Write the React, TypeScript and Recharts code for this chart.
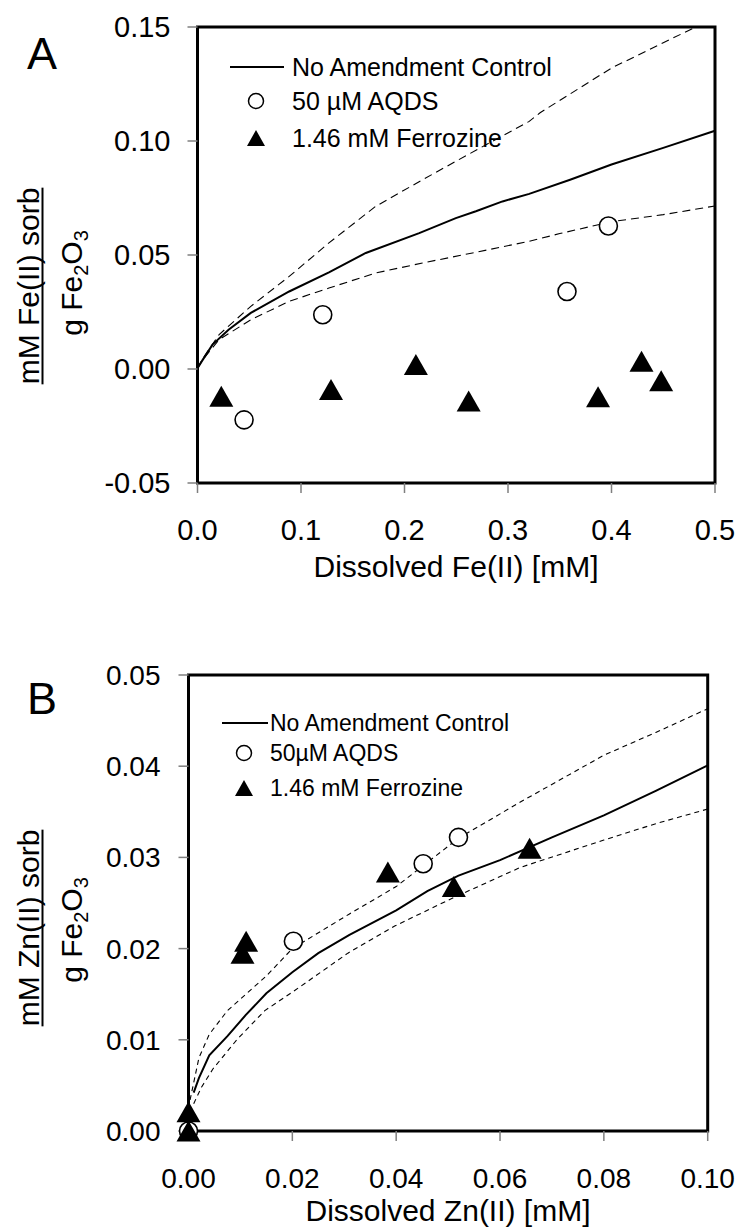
import { ComposedChart, Line, Scatter, XAxis, YAxis, ReferenceArea, Legend, Label } from 'recharts'

const FONT = '"Liberation Sans", Arial, Helvetica, sans-serif'

// ---- panel A: Fe(II) ----
const feTicksX = [0, 0.1, 0.2, 0.3, 0.4, 0.5]
const feTicksY = [-0.05, 0, 0.05, 0.1, 0.15]

const feControlX = [0, 0.005, 0.0145, 0.03, 0.0515, 0.0886, 0.127, 0.1626, 0.2142, 0.2496, 0.269, 0.2947, 0.3205, 0.36, 0.4, 0.45, 0.5]
const feControlY = [0.0003, 0.004, 0.0107, 0.0172, 0.0246, 0.034, 0.0424, 0.0509, 0.0596, 0.0662, 0.0692, 0.0735, 0.0768, 0.083, 0.0897, 0.097, 0.1045]

const feUpperX = [0, 0.005, 0.0209, 0.0515, 0.0886, 0.127, 0.172, 0.2174, 0.2496, 0.2818, 0.3205, 0.331, 0.4, 0.45, 0.481]
const feUpperY = [0.0003, 0.0045, 0.0151, 0.0275, 0.0406, 0.0553, 0.0713, 0.083, 0.0911, 0.0991, 0.1086, 0.1124, 0.132, 0.1431, 0.1499]

const feLowerX = [0, 0.005, 0.0209, 0.0515, 0.0886, 0.127, 0.172, 0.2174, 0.2657, 0.3205, 0.35, 0.4, 0.45, 0.5]
const feLowerY = [0.0003, 0.004, 0.0129, 0.0216, 0.0297, 0.0355, 0.0421, 0.0465, 0.0509, 0.056, 0.0594, 0.0646, 0.0677, 0.0715]

const feAqdsX = [0.045, 0.121, 0.357, 0.397]
const feAqdsY = [-0.0223, 0.0238, 0.034, 0.0627]

const feFerroX = [0.023, 0.129, 0.211, 0.262, 0.387, 0.429, 0.448]
const feFerroY = [-0.012, -0.009, 0.002, -0.014, -0.0122, 0.0034, -0.0052]

// ---- panel B: Zn(II) ----
const znTicksX = [0, 0.02, 0.04, 0.06, 0.08, 0.1]
const znTicksY = [0, 0.01, 0.02, 0.03, 0.04, 0.05]

const znControlX = [0.001, 0.002, 0.004, 0.0075, 0.011, 0.015, 0.02, 0.025, 0.031, 0.04, 0.046, 0.052, 0.06, 0.07, 0.08, 0.09, 0.1]
const znControlY = [0.0042, 0.0058, 0.0083, 0.0104, 0.0127, 0.0151, 0.0174, 0.0195, 0.0215, 0.0242, 0.0263, 0.028, 0.0297, 0.0322, 0.0346, 0.0373, 0.0401]

const znUpperX = [0.0003, 0.002, 0.004, 0.0075, 0.015, 0.02, 0.031, 0.04, 0.052, 0.064, 0.08, 0.09, 0.1]
const znUpperY = [0.0034, 0.008, 0.0106, 0.0132, 0.017, 0.02, 0.0238, 0.0268, 0.0321, 0.0361, 0.0412, 0.0437, 0.0463]

const znLowerX = [0.001, 0.0025, 0.0047, 0.0093, 0.0147, 0.0202, 0.0307, 0.0398, 0.0511, 0.0639, 0.08, 0.09, 0.1]
const znLowerY = [0.003, 0.0048, 0.0068, 0.01, 0.0132, 0.0153, 0.0195, 0.0225, 0.0256, 0.0289, 0.0319, 0.0337, 0.0353]

const znAqdsX = [0, 0.0202, 0.0452, 0.052]
const znAqdsY = [0, 0.0208, 0.0293, 0.0322]

const znFerroX = [0, 0, 0.0104, 0.0111, 0.0384, 0.0511, 0.0657]
const znFerroY = [0.0021, 0, 0.0195, 0.0208, 0.0284, 0.0268, 0.031]

const pts = (xs: number[], ys: number[]) => xs.map((x, i) => ({ x, y: ys[i] }))

function OpenCircle(props: any) {
  const { cx, cy } = props
  return <circle cx={cx} cy={cy} r={9} fill="#fff" stroke="#000" strokeWidth={1.6} />
}

function FilledTriangle(props: any) {
  const { cx, cy } = props
  const w = 24
  const h = 21
  return <path d={`M${cx},${cy - h / 2}L${cx + w / 2},${cy + h / 2}L${cx - w / 2},${cy + h / 2}Z`} fill="#000" />
}

interface LegendGeom {
  lineX1: number
  lineX2: number
  markX: number
  textX: number
  rows: number[]
  fontSize: number
  aqdsLabel: string
}

function legendSvg(g: LegendGeom) {
  const [r1, r2, r3] = g.rows
  const dy = g.fontSize * 0.355
  return (
    <svg width={742} height={r3 + 30} style={{ display: 'block', overflow: 'visible' }}>
      <line x1={g.lineX1} x2={g.lineX2} y1={r1} y2={r1} stroke="#000" strokeWidth={2} />
      <circle cx={g.markX} cy={r2} r={7.5} fill="#fff" stroke="#000" strokeWidth={1.5} />
      <path d={`M${g.markX},${r3 - 8}L${g.markX + 9},${r3 + 8}L${g.markX - 9},${r3 + 8}Z`} fill="#000" />
      <g fontFamily={FONT} fontSize={g.fontSize} fill="#000">
        <text x={g.textX} y={r1 + dy}>No Amendment Control</text>
        <text x={g.textX} y={r2 + dy}>{g.aqdsLabel}</text>
        <text x={g.textX} y={r3 + dy}>1.46 mM Ferrozine</text>
      </g>
    </svg>
  )
}

function yTitle(metal: string, letter: string, letterY: number, cy1: number, cy2: number) {
  const fs = 30
  const half = (6.556 * fs) / 2
  return (
    <g fontFamily={FONT} fill="#000">
      <text x={27} y={letterY} fontSize={45}>{letter}</text>
      <text transform={`translate(39,${cy1}) rotate(-90)`} textAnchor="middle" fontSize={fs}>
        {`mM ${metal}(II) sorb`}
      </text>
      <line x1={42.5} x2={42.5} y1={cy1 - half} y2={cy1 + half} stroke="#000" strokeWidth={2} />
      <text transform={`translate(82,${cy2}) rotate(-90)`} textAnchor="middle" fontSize={fs}>
        g Fe<tspan dy={6} fontSize={20}>2</tspan>
        <tspan dy={-6}>O</tspan>
        <tspan dy={6} fontSize={20}>3</tspan>
      </text>
    </g>
  )
}

function xTitle(text: string, cx: number, y: number) {
  return (
    <text x={cx} y={y} textAnchor="middle" fontFamily={FONT} fontSize={30} fill="#000">
      {text}
    </text>
  )
}

const tickLine = { stroke: '#7f7f7f', strokeWidth: 1.5 }

export default function App() {
  return (
    <div style={{ position: 'absolute', left: 0, top: 0, width: 742, height: 1229, background: '#fff' }}>
      <div style={{ position: 'absolute', left: 0, top: 0 }}>
        <ComposedChart width={742} height={600} margin={{ top: 27, right: 27, bottom: 17, left: 0 }} style={{ fontFamily: FONT }}>
          <XAxis
            type="number"
            dataKey="x"
            domain={[0, 0.5]}
            ticks={feTicksX}
            interval={0}
            tickFormatter={(v: number) => v.toFixed(1)}
            tick={{ fill: '#000', fontSize: 29, fontFamily: FONT }}
            tickSize={10}
            tickMargin={26}
            tickLine={tickLine}
            axisLine={false}
            height={100}
            label={<Label content={() => xTitle('Dissolved Fe(II) [mM]', 456, 577)} />}
          />
          <YAxis
            type="number"
            dataKey="y"
            domain={[-0.05, 0.15]}
            ticks={feTicksY}
            interval={0}
            tickFormatter={(v: number) => v.toFixed(2)}
            tick={{ fill: '#000', fontSize: 29, fontFamily: FONT }}
            tickSize={10}
            tickMargin={17}
            tickLine={tickLine}
            axisLine={false}
            width={197.5}
            label={<Label content={() => yTitle('Fe', 'A', 69, 286, 283)} />}
          />
          <ReferenceArea x1={0} x2={0.5} y1={-0.05} y2={0.15} fill="none" stroke="#000" strokeWidth={3} />
          <Legend
            layout="vertical"
            align="center"
            verticalAlign="middle"
            wrapperStyle={{ left: 0, top: 0, width: 742, height: 160 }}
            content={() =>
              legendSvg({ lineX1: 230, lineX2: 284, markX: 256, textX: 292, rows: [67, 101, 138], fontSize: 25, aqdsLabel: '50 µM AQDS' })
            }
          />
          <Line data={pts(feUpperX, feUpperY)} dataKey="y" stroke="#000" strokeWidth={1.1} strokeDasharray="8 5" dot={false} isAnimationActive={false} legendType="none" />
          <Line data={pts(feLowerX, feLowerY)} dataKey="y" stroke="#000" strokeWidth={1.1} strokeDasharray="8 5" dot={false} isAnimationActive={false} legendType="none" />
          <Line data={pts(feControlX, feControlY)} dataKey="y" name="No Amendment Control" stroke="#000" strokeWidth={2} dot={false} isAnimationActive={false} />
          <Scatter data={pts(feAqdsX, feAqdsY)} dataKey="y" name="50 µM AQDS" shape={OpenCircle} isAnimationActive={false} />
          <Scatter data={pts(feFerroX, feFerroY)} dataKey="y" name="1.46 mM Ferrozine" shape={FilledTriangle} isAnimationActive={false} />
        </ComposedChart>
      </div>

      <div style={{ position: 'absolute', left: 0, top: 600 }}>
        <ComposedChart width={742} height={629} margin={{ top: 75, right: 34.3, bottom: 8, left: 0 }} style={{ fontFamily: FONT }}>
          <XAxis
            type="number"
            dataKey="x"
            domain={[0, 0.1]}
            ticks={znTicksX}
            interval={0}
            tickFormatter={(v: number) => v.toFixed(2)}
            tick={{ fill: '#000', fontSize: 28, fontFamily: FONT }}
            tickSize={10}
            tickMargin={27}
            tickLine={tickLine}
            axisLine={false}
            height={90}
            label={<Label content={() => xTitle('Dissolved Zn(II) [mM]', 448, 621)} />}
          />
          <YAxis
            type="number"
            dataKey="y"
            domain={[0, 0.05]}
            ticks={znTicksY}
            interval={0}
            tickFormatter={(v: number) => v.toFixed(2)}
            tick={{ fill: '#000', fontSize: 28, fontFamily: FONT }}
            tickSize={10}
            tickMargin={18}
            tickLine={tickLine}
            axisLine={false}
            width={188.5}
            label={<Label content={() => yTitle('Zn', 'B', 114, 328, 330)} />}
          />
          <ReferenceArea x1={0} x2={0.1} y1={0} y2={0.05} fill="none" stroke="#000" strokeWidth={3} />
          <Legend
            layout="vertical"
            align="center"
            verticalAlign="middle"
            wrapperStyle={{ left: 0, top: 0, width: 742, height: 220 }}
            content={() =>
              legendSvg({ lineX1: 222, lineX2: 268, markX: 244, textX: 270, rows: [123, 153, 188], fontSize: 23, aqdsLabel: '50µM AQDS' })
            }
          />
          <Line data={pts(znUpperX, znUpperY)} dataKey="y" stroke="#000" strokeWidth={1.1} strokeDasharray="5 4" dot={false} isAnimationActive={false} legendType="none" />
          <Line data={pts(znLowerX, znLowerY)} dataKey="y" stroke="#000" strokeWidth={1.1} strokeDasharray="5 4" dot={false} isAnimationActive={false} legendType="none" />
          <Line data={pts(znControlX, znControlY)} dataKey="y" name="No Amendment Control" stroke="#000" strokeWidth={2} dot={false} isAnimationActive={false} />
          <Scatter data={pts(znAqdsX, znAqdsY)} dataKey="y" name="50µM AQDS" shape={OpenCircle} isAnimationActive={false} />
          <Scatter data={pts(znFerroX, znFerroY)} dataKey="y" name="1.46 mM Ferrozine" shape={FilledTriangle} isAnimationActive={false} />
        </ComposedChart>
      </div>
    </div>
  )
}
